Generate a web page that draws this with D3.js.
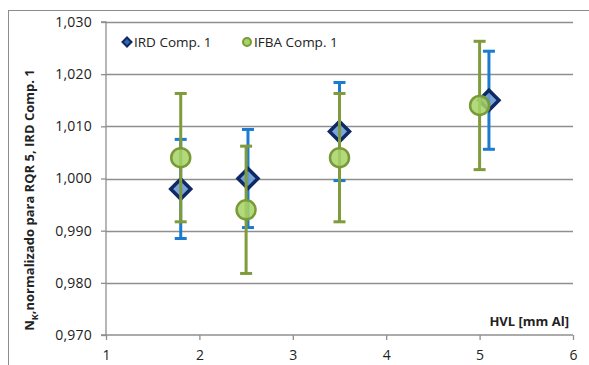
<!DOCTYPE html>
<html>
<head>
<meta charset="utf-8">
<script src="https://d3js.org/d3.v7.min.js"></script>
<style>
  body { margin: 0; background: #fff; }
  text { font-family: "Open Sans", sans-serif; fill: #222; }
</style>
</head>
<body>
<script>
  // values
  const irdX = [1.8, 2.52, 3.5, 5.1];
  const irdY = [0.998, 1.000, 1.009, 1.015];
  const irdErr = [0.0095, 0.0094, 0.0094, 0.0094];
  const ifbaX = [1.8, 2.5, 3.5, 5.0];
  const ifbaY = [1.004, 0.994, 1.004, 1.014];
  const ifbaErr = [0.0123, 0.0122, 0.0123, 0.0123];
  const xTicks = [1, 2, 3, 4, 5, 6];
  const yTicks = [0.970, 0.980, 0.990, 1.000, 1.010, 1.020, 1.030];

  const width = 589, height = 365;
  const plotL = 106, plotR = 573, plotT = 22, plotB = 335;

  const svg = d3.select("body").append("svg")
    .attr("width", width)
    .attr("height", height);

  // outer chart frame
  svg.append("rect")
    .attr("x", 8.5).attr("y", 10.5)
    .attr("width", 620).attr("height", 400)
    .attr("fill", "none")
    .attr("stroke", "#8c8c8c");

  const x = d3.scaleLinear().domain([1, 6]).range([plotL, plotR]);
  const y = d3.scaleLinear().domain([0.970, 1.030]).range([plotB, plotT]);

  // gridlines
  svg.append("g").selectAll("line")
    .data(yTicks.slice(1))
    .enter().append("line")
    .attr("x1", plotL).attr("x2", plotR)
    .attr("y1", d => Math.round(y(d)) + 0.5)
    .attr("y2", d => Math.round(y(d)) + 0.5)
    .attr("stroke", "#8f8f8f")
    .attr("stroke-width", 1.3);

  const fmt = d => d3.format(".3f")(d).replace(".", ",");

  // y axis
  const yAxis = svg.append("g")
    .attr("transform", "translate(" + plotL + ",0)")
    .call(d3.axisLeft(y).tickValues(yTicks).tickSize(5).tickPadding(9).tickFormat(fmt));
  yAxis.select(".domain").attr("stroke", "#8f8f8f").attr("stroke-width", 1.3).attr("d", "M-5," + plotT + "H0V" + plotB + "H-5");
  yAxis.selectAll(".tick line").attr("stroke", "#8f8f8f").attr("stroke-width", 1.3);
  yAxis.selectAll("text").style("font-size", "14px").style("letter-spacing", "0.2px")
    .style("font-family", "'Open Sans', sans-serif").attr("fill", "#222");

  // x axis
  const xAxis = svg.append("g")
    .attr("transform", "translate(0," + plotB + ")")
    .call(d3.axisBottom(x).tickValues(xTicks).tickSize(5).tickPadding(10).tickFormat(d3.format("d")));
  xAxis.select(".domain").attr("stroke", "#8f8f8f").attr("stroke-width", 1.3).attr("d", "M" + plotL + ",0H" + plotR);
  xAxis.selectAll(".tick line").attr("stroke", "#8f8f8f").attr("stroke-width", 1.3);
  xAxis.selectAll("text").style("font-size", "14px")
    .style("font-family", "'Open Sans', sans-serif").attr("fill", "#222");

  // error bars
  function errorBars(xs, ys, es, color, cap) {
    const g = svg.append("g").attr("stroke", color).attr("stroke-width", 3);
    xs.forEach((xv, i) => {
      const cx = x(xv);
      g.append("line").attr("x1", cx).attr("x2", cx)
        .attr("y1", y(ys[i] + es[i])).attr("y2", y(ys[i] - es[i]));
      [ys[i] + es[i], ys[i] - es[i]].forEach(v => {
        g.append("line").attr("x1", cx - cap).attr("x2", cx + cap)
          .attr("y1", y(v)).attr("y2", y(v));
      });
    });
  }

  errorBars(irdX, irdY, irdErr, "#1a7bd0", 6);
  svg.append("g").selectAll("path")
    .data(irdX)
    .enter().append("path")
    .attr("transform", (d, i) => "translate(" + x(d) + "," + y(irdY[i]) + ")")
    .attr("d", "M0,-10L10,0L0,10L-10,0Z")
    .attr("fill", "#6b9bd2")
    .attr("fill-opacity", 0.9)
    .attr("stroke", "#0e2a66")
    .attr("stroke-width", 3.5);

  errorBars(ifbaX, ifbaY, ifbaErr, "#7f9b3b", 6);
  svg.append("g").selectAll("circle")
    .data(ifbaX)
    .enter().append("circle")
    .attr("cx", d => x(d))
    .attr("cy", (d, i) => y(ifbaY[i]))
    .attr("r", 9.5)
    .attr("fill", "#a4d466")
    .attr("fill-opacity", 0.85)
    .attr("stroke", "#7a9a38")
    .attr("stroke-width", 2.5);

  // legend
  const leg = svg.append("g");
  leg.append("path")
    .attr("transform", "translate(127,42)")
    .attr("d", "M0,-4.5L4.5,0L0,4.5L-4.5,0Z")
    .attr("fill", "#3a63a8")
    .attr("stroke", "#0e2a66")
    .attr("stroke-width", 2);
  leg.append("text").attr("x", 134).attr("y", 47)
    .style("font-size", "13.5px")
    .text("IRD Comp. 1");
  leg.append("circle")
    .attr("cx", 247).attr("cy", 42).attr("r", 4)
    .attr("fill", "#a4d466").attr("stroke", "#7a9a38").attr("stroke-width", 2);
  leg.append("text").attr("x", 254).attr("y", 47)
    .style("font-size", "13.5px")
    .text("IFBA Comp. 1");

  // axis titles
  svg.append("text")
    .attr("x", 569).attr("y", 326)
    .attr("text-anchor", "end")
    .style("font-size", "13px")
    .style("font-weight", "bold")
    .text("HVL [mm Al]");

  const yt = svg.append("text")
    .attr("transform", "translate(34,200) rotate(-90)")
    .attr("text-anchor", "middle")
    .style("font-size", "13px")
    .style("font-weight", "bold");
  yt.append("tspan").text("N");
  yt.append("tspan").attr("dy", 4).style("font-size", "9px").text("K");
  yt.append("tspan").attr("dy", -4).text(",normalizado para RQR 5, IRD Comp. 1");
</script>
</body>
</html>
